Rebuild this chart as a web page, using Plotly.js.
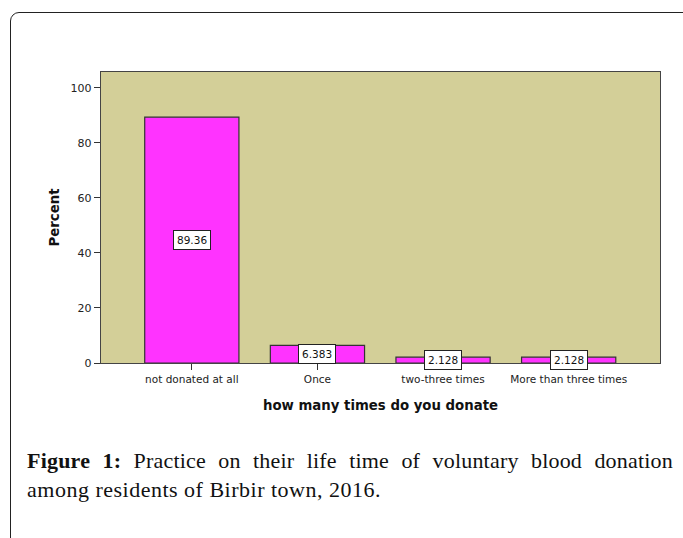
<!DOCTYPE html>
<html>
<head>
<meta charset="utf-8">
<script src="https://cdn.plot.ly/plotly-3.0.1.min.js"></script>
<style>
  html, body { margin: 0; padding: 0; background: #fff; }
  #wrap { position: relative; width: 683px; height: 538px; overflow: hidden; background: #fff; }
  #frame { position: absolute; left: 10px; top: 12px; width: 690px; height: 620px;
           border: 1.5px solid #222; border-radius: 9px; box-sizing: border-box; }
  #chart { position: absolute; left: 0; top: 0; width: 683px; height: 538px; }
  #caption { position: absolute; left: 27px; top: 446px; width: 646px;
             font-family: "Liberation Serif", "DejaVu Serif", serif; font-size: 22px;
             line-height: 29px; color: #111; letter-spacing: 0.5px; }
  #caption .l1 { text-align: justify; text-align-last: justify; white-space: nowrap; letter-spacing: 0.2px; }
  #caption b { font-weight: bold; }
</style>
</head>
<body>
<div id="wrap">
  <div id="frame"></div>
  <div id="chart"></div>
  <div id="caption">
    <div class="l1"><b>Figure 1:</b> Practice on their life time of voluntary blood donation</div>
    <div>among residents of Birbir town, 2016.</div>
  </div>
</div>
<script>
const categories = ["not donated at all", "Once", "two-three times", "More than three times"];
const percents = [89.36, 6.383, 2.128, 2.128];
const yTicks = [0, 20, 40, 60, 80, 100];

const trace = {
  type: "bar",
  x: categories,
  y: percents,
  width: 0.75,
  marker: { color: "#ff33ff", line: { color: "#333333", width: 1.2 } },
  hoverinfo: "x+y"
};

const annotations = categories.map((c, i) => ({
  x: c, y: percents[i] / 2, xref: "x", yref: "y",
  text: String(percents[i]), showarrow: false,
  font: { family: "DejaVu Sans, Verdana, sans-serif", size: 10.5, color: "#111" },
  bgcolor: "#ffffff", bordercolor: "#222222", borderwidth: 1, borderpad: 3
}));

const layout = {
  width: 683, height: 538,
  margin: { l: 101, r: 23, t: 72, b: 175 },
  paper_bgcolor: "rgba(0,0,0,0)",
  plot_bgcolor: "#d3cf98",
  showlegend: false,
  bargap: 0,
  xaxis: {
    type: "category",
    range: [-0.723, 3.727],
    showgrid: false, zeroline: false,
    showline: true, mirror: true, linecolor: "#444444", linewidth: 1.2,
    ticks: "outside", ticklen: 6, tickcolor: "#333333", tickwidth: 1,
    tickfont: { family: "DejaVu Sans, Verdana, sans-serif", size: 10.5, color: "#222" },
    title: { text: "how many times do you donate", standoff: 16,
             font: { family: "DejaVu Sans, Verdana, sans-serif", size: 13.3, color: "#111", weight: "bold" } }
  },
  yaxis: {
    range: [0, 105.8],
    tickvals: yTicks, ticktext: yTicks.map(String),
    showgrid: false, zeroline: false,
    showline: true, mirror: true, linecolor: "#444444", linewidth: 1.2,
    ticks: "outside", ticklen: 6, tickcolor: "#333333", tickwidth: 1,
    tickfont: { family: "DejaVu Sans, Verdana, sans-serif", size: 11, color: "#222" },
    title: { text: "Percent", standoff: 8,
             font: { family: "DejaVu Sans, Verdana, sans-serif", size: 13.3, color: "#111", weight: "bold" } }
  },
  annotations: annotations
};

Plotly.newPlot("chart", [trace], layout, { displayModeBar: false, staticPlot: true });
</script>
</body>
</html>
